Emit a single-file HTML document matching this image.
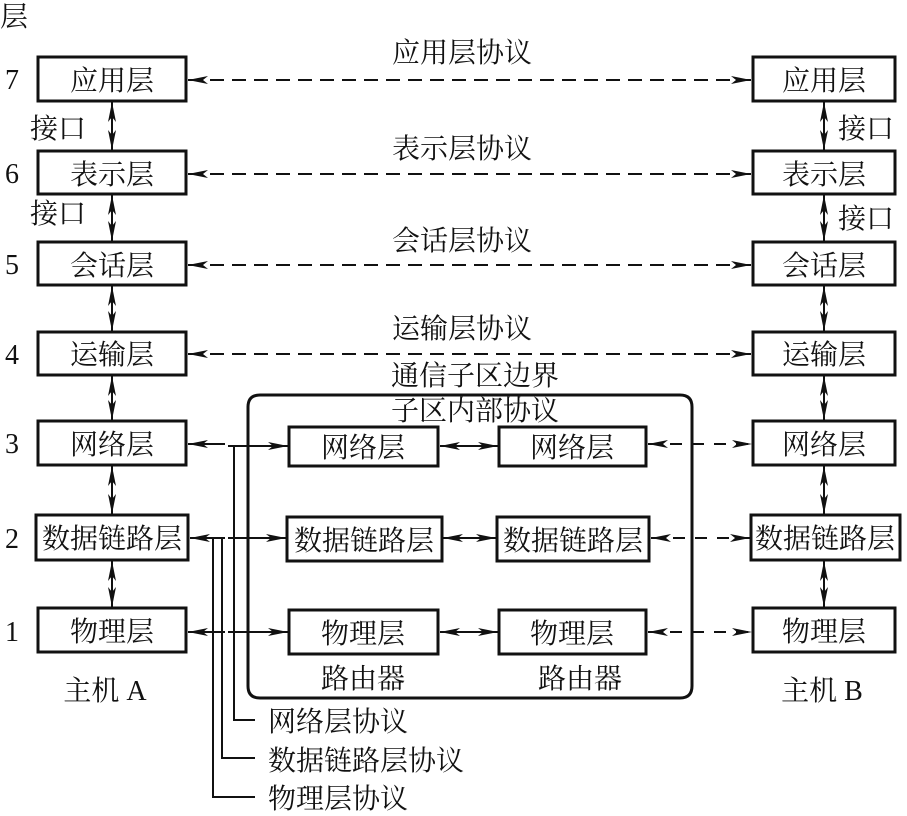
<!DOCTYPE html>
<html><head><meta charset="utf-8"><style>
html,body{margin:0;padding:0;background:#fff;}
svg text{font-family:"Liberation Serif","Noto Serif CJK SC","Noto Sans CJK SC",serif;font-size:28px;fill:#111;}
</style></head><body>
<svg width="907" height="811" viewBox="0 0 907 811" xmlns="http://www.w3.org/2000/svg">
<defs>
<marker id="a" viewBox="0 0 20 10" refX="20" refY="5" markerWidth="20" markerHeight="10" markerUnits="userSpaceOnUse" orient="auto-start-reverse">
<path d="M0,1 L20,5 L0,9 L5,5 Z" fill="#111"/></marker>
</defs>
<g stroke="#111" fill="none" stroke-width="3">
<!-- left boxes -->
<rect x="38" y="57" width="148" height="44"/>
<rect x="38" y="151" width="148" height="43"/>
<rect x="38" y="242" width="148" height="43"/>
<rect x="38" y="332" width="148" height="43"/>
<rect x="38" y="421" width="148" height="44"/>
<rect x="36" y="515" width="152" height="45"/>
<rect x="38" y="608" width="148" height="44"/>
<!-- right boxes -->
<rect x="753" y="57" width="142" height="44"/>
<rect x="753" y="151" width="142" height="43"/>
<rect x="753" y="242" width="142" height="43"/>
<rect x="753" y="332" width="142" height="43"/>
<rect x="753" y="421" width="142" height="44"/>
<rect x="751" y="515" width="149" height="45"/>
<rect x="753" y="608" width="142" height="44"/>
<!-- routers -->
<rect x="289" y="427" width="149" height="39"/>
<rect x="499" y="427" width="147" height="39"/>
<rect x="287" y="517" width="155" height="44"/>
<rect x="497" y="517" width="152" height="44"/>
<rect x="289" y="610" width="149" height="44"/>
<rect x="499" y="610" width="147" height="44"/>
<!-- subnet border -->
<path d="M260,395 H680 Q692,395 692,407 V686 Q692,698 680,698 H260 Q248,698 248,686 V407 Q248,395 260,395 Z"/>
</g>
<g stroke="#111" stroke-width="2" fill="none">
<!-- vertical interfaces -->
<line x1="112" y1="102" x2="112" y2="150" marker-start="url(#a)" marker-end="url(#a)"/>
<line x1="112" y1="195" x2="112" y2="241" marker-start="url(#a)" marker-end="url(#a)"/>
<line x1="112" y1="286" x2="112" y2="331" marker-start="url(#a)" marker-end="url(#a)"/>
<line x1="112" y1="376" x2="112" y2="420" marker-start="url(#a)" marker-end="url(#a)"/>
<line x1="112" y1="466" x2="112" y2="514" marker-start="url(#a)" marker-end="url(#a)"/>
<line x1="112" y1="561" x2="112" y2="607" marker-start="url(#a)" marker-end="url(#a)"/>
<line x1="824" y1="102" x2="824" y2="150" marker-start="url(#a)" marker-end="url(#a)"/>
<line x1="824" y1="195" x2="824" y2="241" marker-start="url(#a)" marker-end="url(#a)"/>
<line x1="824" y1="286" x2="824" y2="331" marker-start="url(#a)" marker-end="url(#a)"/>
<line x1="824" y1="376" x2="824" y2="420" marker-start="url(#a)" marker-end="url(#a)"/>
<line x1="824" y1="466" x2="824" y2="514" marker-start="url(#a)" marker-end="url(#a)"/>
<line x1="824" y1="561" x2="824" y2="607" marker-start="url(#a)" marker-end="url(#a)"/>
<!-- dashed peer protocols -->
<g stroke-dasharray="14 8">
<line x1="188" y1="80" x2="751" y2="80" marker-start="url(#a)" marker-end="url(#a)"/>
<line x1="188" y1="174" x2="751" y2="174" marker-start="url(#a)" marker-end="url(#a)"/>
<line x1="188" y1="265" x2="751" y2="265" marker-start="url(#a)" marker-end="url(#a)"/>
<line x1="188" y1="354" x2="751" y2="354" marker-start="url(#a)" marker-end="url(#a)"/>
</g>
<!-- left host to router -->
<line x1="188" y1="444" x2="225" y2="444" marker-start="url(#a)"/>
<line x1="228" y1="446" x2="288" y2="446" marker-end="url(#a)"/>
<line x1="190" y1="538" x2="225" y2="538" marker-start="url(#a)"/>
<line x1="228" y1="538" x2="286" y2="538" marker-end="url(#a)"/>
<line x1="188" y1="632" x2="225" y2="632" marker-start="url(#a)"/>
<line x1="228" y1="632" x2="288" y2="632" marker-end="url(#a)"/>
<!-- label leaders -->
<polyline points="244,446 234,446 234,720 255,720"/>
<polyline points="222,538 222,758 255,758"/>
<polyline points="213,538 213,797 255,797"/>
<!-- router to router -->
<line x1="440" y1="446" x2="498" y2="446" marker-start="url(#a)" marker-end="url(#a)"/>
<line x1="443" y1="538" x2="496" y2="538" marker-start="url(#a)" marker-end="url(#a)"/>
<line x1="440" y1="632" x2="498" y2="632" marker-start="url(#a)" marker-end="url(#a)"/>
<!-- router to right host -->
<g stroke-dasharray="12 10">
<line x1="648" y1="444" x2="752" y2="444" marker-start="url(#a)" marker-end="url(#a)"/>
<line x1="651" y1="538" x2="750" y2="538" marker-start="url(#a)" marker-end="url(#a)"/>
<line x1="648" y1="632" x2="752" y2="632" marker-start="url(#a)" marker-end="url(#a)"/>
</g>
</g>
<!-- text -->
<text x="0" y="26">层</text>
<text x="5" y="89">7</text><text x="5" y="183">6</text><text x="5" y="274">5</text>
<text x="5" y="364">4</text><text x="5" y="453">3</text><text x="5" y="548">2</text><text x="5" y="641">1</text>
<g text-anchor="middle">
<text x="112" y="90">应用层</text><text x="112" y="184">表示层</text><text x="112" y="275">会话层</text>
<text x="112" y="364">运输层</text><text x="112" y="454">网络层</text><text x="112" y="548">数据链路层</text>
<text x="112" y="641">物理层</text>
<text x="824" y="90">应用层</text><text x="824" y="184">表示层</text><text x="824" y="275">会话层</text>
<text x="824" y="364">运输层</text><text x="824" y="454">网络层</text><text x="825" y="548">数据链路层</text>
<text x="824" y="641">物理层</text>
<text x="363" y="457">网络层</text><text x="572" y="457">网络层</text>
<text x="364" y="550">数据链路层</text><text x="573" y="550">数据链路层</text>
<text x="363" y="643">物理层</text><text x="572" y="643">物理层</text>
<text x="363" y="688">路由器</text><text x="580" y="688">路由器</text>
<text x="105" y="700">主机 A</text><text x="822" y="700">主机 B</text>
<text x="462" y="62">应用层协议</text><text x="462" y="158">表示层协议</text>
<text x="462" y="250">会话层协议</text><text x="462" y="338">运输层协议</text>
<text x="475" y="385">通信子区边界</text><text x="475" y="420">子区内部协议</text>
</g>
<text x="30" y="138">接口</text><text x="30" y="223">接口</text>
<text x="838" y="138">接口</text><text x="838" y="228">接口</text>
<text x="268" y="731">网络层协议</text>
<text x="268" y="770">数据链路层协议</text>
<text x="268" y="808">物理层协议</text>
</svg>
</body></html>
